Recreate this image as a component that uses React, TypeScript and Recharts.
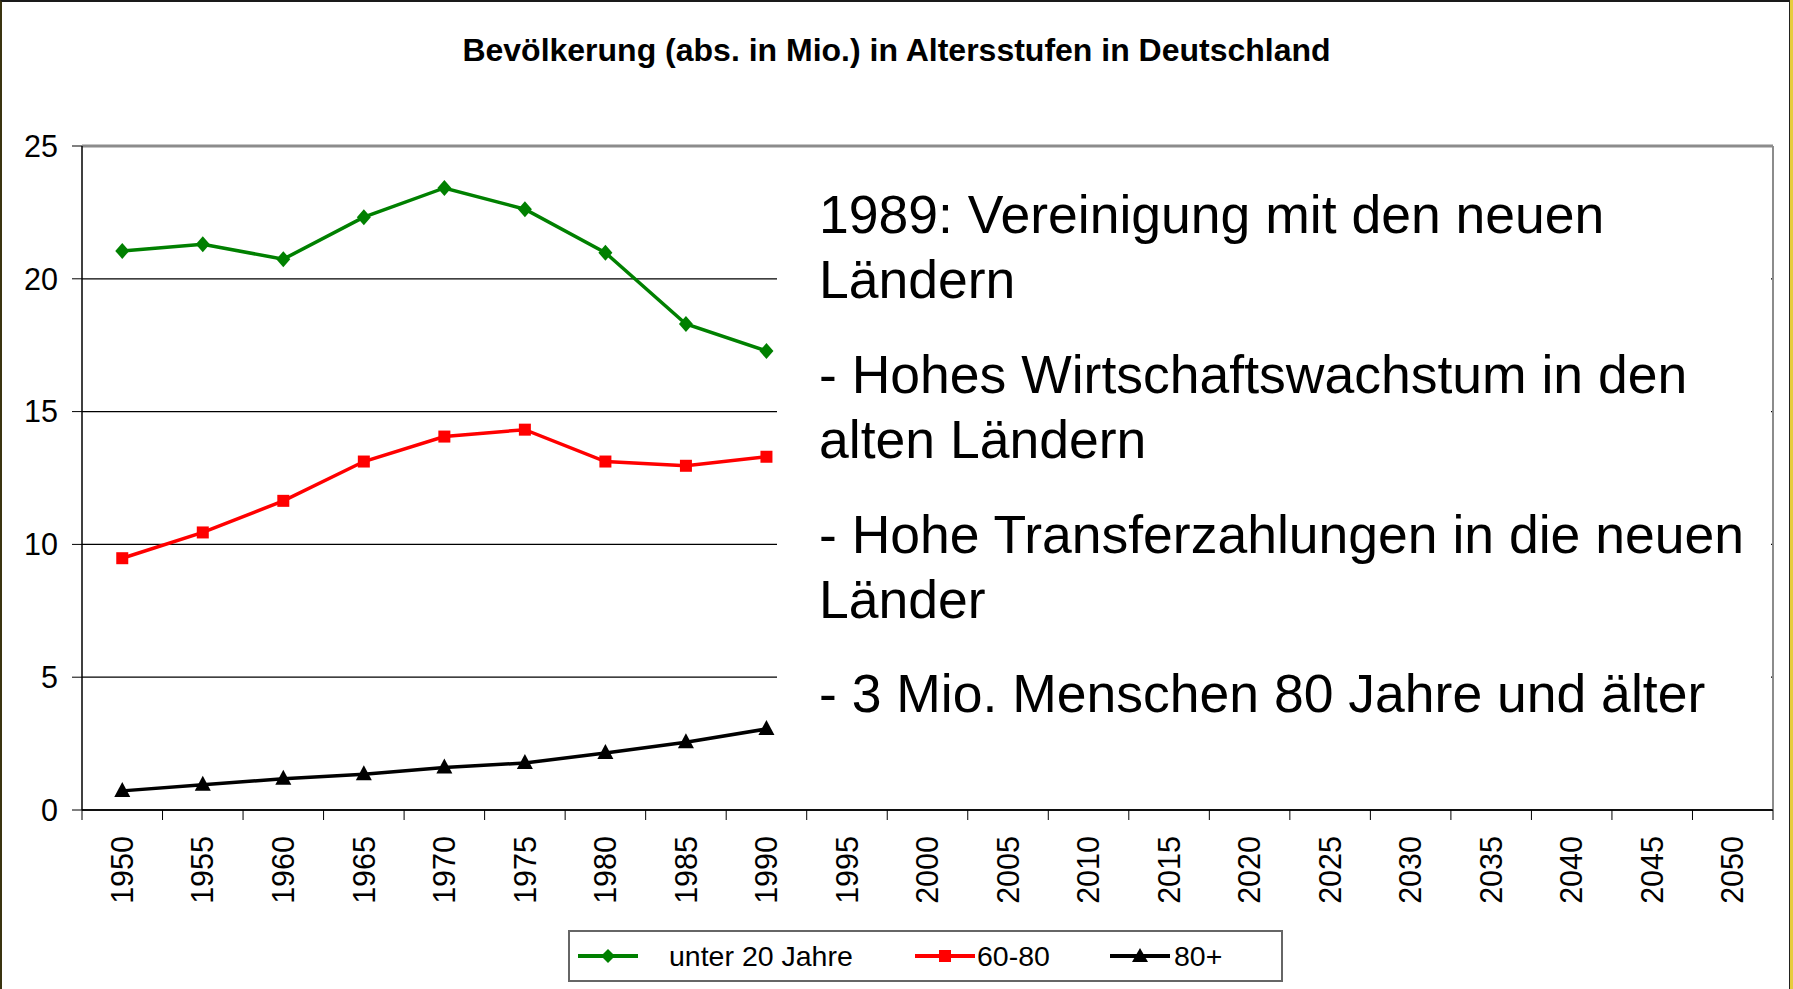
import React from "react";
import {
  LineChart,
  Line,
  XAxis,
  YAxis,
  CartesianGrid,
  ReferenceLine,
  Legend,
} from "recharts";

// categories on the x axis
const years = [
  "1950", "1955", "1960", "1965", "1970", "1975", "1980",
  "1985", "1990", "1995", "2000", "2005", "2010", "2015",
  "2020", "2025", "2030", "2035", "2040", "2045", "2050",
];

// population in millions, 1950 - 1990
const unter20 = [21.05, 21.3, 20.74, 22.32, 23.42, 22.62, 20.98, 18.3, 17.28];
const alter60bis80 = [9.48, 10.45, 11.64, 13.12, 14.06, 14.32, 13.12, 12.96, 13.3];
const alter80plus = [0.72, 0.95, 1.18, 1.35, 1.6, 1.77, 2.15, 2.55, 3.05];

const yTicks = [0, 5, 10, 15, 20, 25];

const seriesNames = ["unter 20 Jahre", "60-80", "80+"];

const noteLines = [
  "1989: Vereinigung mit den neuen",
  "Ländern",
  "- Hohes Wirtschaftswachstum in den",
  "alten Ländern",
  "- Hohe Transferzahlungen in die neuen",
  "Länder",
  "- 3 Mio. Menschen 80 Jahre und älter",
];

const data = years.map((year, i) => ({
  year,
  u20: unter20[i] ?? null,
  a60: alter60bis80[i] ?? null,
  a80: alter80plus[i] ?? null,
}));

const W = 1793;
const H = 989;
const MARGIN = { top: 146, right: 20, left: 0, bottom: 79 };
const Y_AXIS_W = 82;
const X_AXIS_H = 100;
const BAND = (W - MARGIN.left - MARGIN.right - Y_AXIS_W) / years.length;
const FONT = '"Liberation Sans", Arial, sans-serif';

const GREEN = "#008000";
const RED = "#ff0000";
const BLACK = "#000000";

function XTick(props: any) {
  const { x, y, payload, index } = props;
  const half = BAND / 2;
  return (
    <g>
      <line x1={x - half} x2={x - half} y1={y} y2={y + 10} stroke="#000" />
      {index === years.length - 1 && (
        <line x1={x + half} x2={x + half} y1={y} y2={y + 10} stroke="#000" />
      )}
      <text
        transform={`translate(${x},${y + 26}) rotate(-90)`}
        textAnchor="end"
        dy="0.35em"
        fontSize={30.5}
        fontFamily={FONT}
        fill="#000"
      >
        {payload.value}
      </text>
    </g>
  );
}

function diamondDot(p: any) {
  if (p.cy == null || p.value == null) return <g key={`g-${p.index}`} />;
  const { cx, cy } = p;
  return (
    <polygon
      key={`g-${p.index}`}
      points={`${cx},${cy - 8} ${cx + 7},${cy} ${cx},${cy + 8} ${cx - 7},${cy}`}
      fill={GREEN}
    />
  );
}

function squareDot(p: any) {
  if (p.cy == null || p.value == null) return <g key={`r-${p.index}`} />;
  return (
    <rect key={`r-${p.index}`} x={p.cx - 6} y={p.cy - 6} width={12} height={12} fill={RED} />
  );
}

function triangleDot(p: any) {
  if (p.cy == null || p.value == null) return <g key={`b-${p.index}`} />;
  const { cx, cy } = p;
  return (
    <polygon
      key={`b-${p.index}`}
      points={`${cx},${cy - 9} ${cx + 8},${cy + 6} ${cx - 8},${cy + 6}`}
      fill={BLACK}
    />
  );
}

function LegendIcon({ color, shape }: { color: string; shape: string }) {
  return (
    <svg width={60} height={20} style={{ display: "block" }}>
      <line x1={0} x2={60} y1={10} y2={10} stroke={color} strokeWidth={4} />
      {shape === "diamond" && <polygon points="30,3 37,10 30,17 23,10" fill={color} />}
      {shape === "square" && <rect x={24} y={4} width={12} height={12} fill={color} />}
      {shape === "triangle" && <polygon points="30,2 38,16 22,16" fill={color} />}
    </svg>
  );
}

function renderLegend() {
  const items = [
    { name: seriesNames[0], color: GREEN, shape: "diamond", icon: 8, text: 99 },
    { name: seriesNames[1], color: RED, shape: "square", icon: 345, text: 407 },
    { name: seriesNames[2], color: BLACK, shape: "triangle", icon: 540, text: 604 },
  ];
  return (
    <div
      style={{
        position: "relative",
        width: 715,
        height: 52,
        boxSizing: "border-box",
        border: "2px solid #666",
        background: "#fff",
        fontFamily: FONT,
        fontSize: 28.5,
        color: "#000",
      }}
    >
      {items.map((it) => (
        <React.Fragment key={it.name}>
          <div style={{ position: "absolute", left: it.icon, top: 14 }}>
            <LegendIcon color={it.color} shape={it.shape} />
          </div>
          <div style={{ position: "absolute", left: it.text, top: 9, lineHeight: "30px" }}>
            {it.name}
          </div>
        </React.Fragment>
      ))}
    </div>
  );
}

export default function App() {
  const noteTops = [215, 280, 375, 440, 535, 600, 694];
  return (
    <div
      style={{
        position: "absolute",
        left: 0,
        top: 0,
        width: W,
        height: H,
        background: "#fff",
        overflow: "hidden",
      }}
    >
      <div
        style={{
          position: "absolute",
          left: 0,
          top: 34,
          width: W,
          textAlign: "center",
          fontFamily: FONT,
          fontWeight: "bold",
          fontSize: 32,
          lineHeight: 1,
          color: "#000",
        }}
      >
        Bevölkerung (abs. in Mio.) in Altersstufen in Deutschland
      </div>
      <div style={{ position: "absolute", left: 0, top: 0 }}>
        <LineChart width={W} height={H} data={data} margin={MARGIN}>
          <CartesianGrid vertical={false} stroke="#000" strokeWidth={1.3} />
          <CartesianGrid
            horizontal={false}
            stroke="#8c8c8c"
            strokeWidth={2}
            verticalCoordinatesGenerator={(args: any) => [
              args.offset.left + args.offset.width,
            ]}
          />
          <ReferenceLine y={25} stroke="#8c8c8c" strokeWidth={3} />
          <XAxis
            dataKey="year"
            scale="band"
            interval={0}
            height={X_AXIS_H}
            tickSize={0}
            tickMargin={0}
            tickLine={false}
            axisLine={{ stroke: "#000", strokeWidth: 1.5 }}
            tick={<XTick />}
          />
          <YAxis
            domain={[0, 25]}
            ticks={yTicks}
            width={Y_AXIS_W}
            tickSize={10}
            tickMargin={14}
            axisLine={{ stroke: "#000", strokeWidth: 1.5 }}
            tickLine={{ stroke: "#000" }}
            tick={{ fontSize: 30.5, fontFamily: FONT, fill: "#000" }}
          />
          <Legend
            layout="horizontal"
            verticalAlign="middle"
            align="center"
            content={renderLegend}
            wrapperStyle={{ left: 568, top: 930, width: 715, height: 52 }}
          />
          <Line
            type="linear"
            dataKey="u20"
            name={seriesNames[0]}
            stroke={GREEN}
            strokeWidth={3.5}
            dot={diamondDot}
            activeDot={false}
            isAnimationActive={false}
          />
          <Line
            type="linear"
            dataKey="a60"
            name={seriesNames[1]}
            stroke={RED}
            strokeWidth={3.5}
            dot={squareDot}
            activeDot={false}
            isAnimationActive={false}
          />
          <Line
            type="linear"
            dataKey="a80"
            name={seriesNames[2]}
            stroke={BLACK}
            strokeWidth={3.5}
            dot={triangleDot}
            activeDot={false}
            isAnimationActive={false}
          />
        </LineChart>
      </div>
      <div
        style={{
          position: "absolute",
          left: 777,
          top: 149,
          width: 994,
          height: 660,
          background: "#fff",
        }}
      />
      {noteLines.map((line, i) => (
        <div
          key={i}
          style={{
            position: "absolute",
            left: 819,
            top: noteTops[i] - 27,
            fontFamily: FONT,
            fontSize: 53.5,
            lineHeight: 1,
            whiteSpace: "nowrap",
            color: "#000",
          }}
        >
          {line}
        </div>
      ))}
      <div
        style={{
          position: "absolute",
          left: 0,
          top: 0,
          width: W,
          height: H,
          boxSizing: "border-box",
          borderLeft: "2px solid #3a3410",
          borderTop: "2px solid #1a1a1a",
          pointerEvents: "none",
        }}
      />
      <div
        style={{
          position: "absolute",
          left: W - 4,
          top: 0,
          width: 1,
          height: H,
          background: "#222",
        }}
      />
      <div
        style={{
          position: "absolute",
          left: W - 3,
          top: 0,
          width: 3,
          height: H,
          background: "#e6cc3c",
        }}
      />
    </div>
  );
}
